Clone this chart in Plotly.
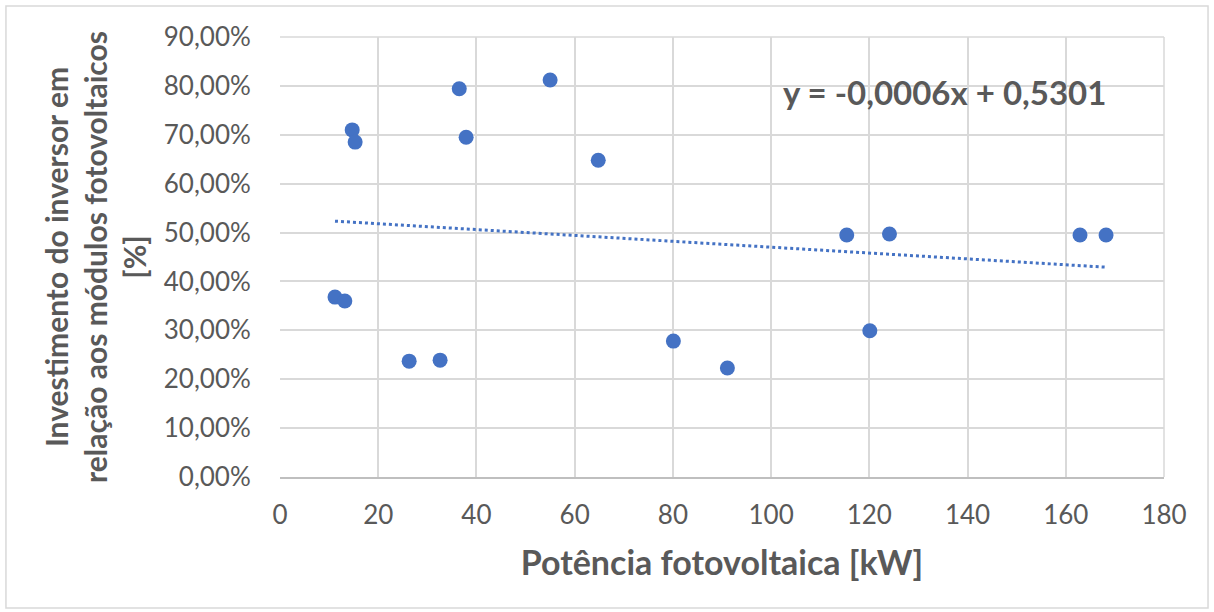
import plotly.graph_objects as go

# Data
potencia_kw = [11.2, 13.2, 14.7, 15.3, 26.3, 32.6, 36.5, 37.9, 55.0, 64.8,
               80.1, 91.1, 115.4, 120.1, 124.1, 162.9, 168.2]
investimento = [0.368, 0.360, 0.710, 0.685, 0.237, 0.239, 0.794, 0.695, 0.812, 0.648,
                0.278, 0.223, 0.495, 0.299, 0.497, 0.495, 0.495]

trend_slope = -0.0006
trend_intercept = 0.5301
equation_text = "y = -0,0006x + 0,5301"

x_ticks = [0, 20, 40, 60, 80, 100, 120, 140, 160, 180]
y_ticks = [0.0, 0.1, 0.2, 0.3, 0.4, 0.5, 0.6, 0.7, 0.8, 0.9]

blue = "#4472C4"
gray_text = "#595959"
grid = "#D9D9D9"
font_family = "Lato, 'Open Sans', sans-serif"

trend_x = [min(potencia_kw), max(potencia_kw)]
trend_y = [trend_slope * v + trend_intercept for v in trend_x]

fig = go.Figure()
fig.add_trace(go.Scatter(
    x=trend_x, y=trend_y, mode="lines",
    line=dict(color=blue, width=3, dash="dot"),
    hoverinfo="skip", showlegend=False))
fig.add_trace(go.Scatter(
    x=potencia_kw, y=investimento, mode="markers",
    marker=dict(color=blue, size=15, line=dict(width=0)),
    showlegend=False))

fig.add_annotation(
    x=0.937, y=0.875, xref="paper", yref="paper",
    text="<b>" + equation_text + "</b>", showarrow=False,
    xanchor="right", yanchor="middle",
    font=dict(family=font_family, size=33, color=gray_text))

fig.add_shape(type="rect", xref="paper", yref="paper",
              x0=-0.310, x1=1.0498, y0=-0.2977, y1=1.0705,
              line=dict(color=grid, width=1.5), fillcolor="rgba(0,0,0,0)",
              layer="below")

fig.update_layout(
    width=1214, height=612,
    margin=dict(l=280, r=50, t=37, b=135, pad=0),
    paper_bgcolor="white", plot_bgcolor="white",
    separators=",.",
    font=dict(family=font_family, color=gray_text, size=26),
    xaxis=dict(
        range=[0, 180], tickvals=x_ticks, showgrid=True, gridcolor=grid, gridwidth=1.5,
        zeroline=False, showline=True, linecolor="#BFBFBF", linewidth=1.5, mirror=False,
        ticks="outside", ticklen=14, tickcolor="rgba(0,0,0,0)",
        tickfont=dict(size=26, color=gray_text),
        title=dict(text="<b>Potência fotovoltaica [kW]</b>",
                   font=dict(size=34, color=gray_text), standoff=22),
    ),
    yaxis=dict(
        range=[0, 0.9], tickvals=y_ticks, tickformat=".2%", showgrid=True,
        gridcolor=grid, gridwidth=1.5, zeroline=False,
        showline=False, ticks="outside", ticklen=23, tickcolor="rgba(0,0,0,0)",
        tickfont=dict(size=26, color=gray_text),
        title=dict(text="<b>Investimento do inversor em<br>relação aos módulos fotovoltaicos<br>[%]</b>",
                   font=dict(size=30, color=gray_text), standoff=8),
    ),
)
# right and top edge gridlines
fig.add_shape(type="line", xref="paper", yref="paper", x0=0, x1=1, y0=1, y1=1,
              line=dict(color=grid, width=1.5), layer="below")
fig.add_shape(type="line", xref="paper", yref="paper", x0=1, x1=1, y0=0, y1=1,
              line=dict(color=grid, width=1.5), layer="below")

fig.write_html("out.html")
